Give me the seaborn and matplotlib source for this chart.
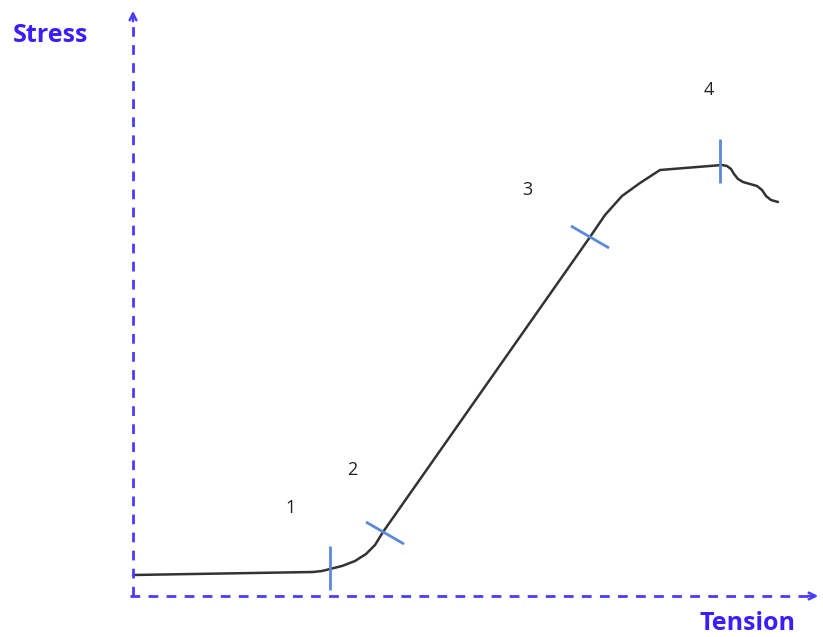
import numpy as np
import pandas as pd
import seaborn as sns
import matplotlib.pyplot as plt

# stress-strain curve (tension on x, stress on y)
tension = [0, 180, 189, 197, 209, 222, 233, 242, 250, 457, 472, 489, 507,
           527, 589, 594, 598, 601, 605, 610, 617, 624, 629, 633, 638, 645]
stress = [21, 24, 25, 27, 30, 35, 42, 51, 64, 359, 381, 400, 413,
          426, 431, 430, 427, 422, 417, 414, 412, 410, 406, 400, 396, 394]

# phase markers: position on the curve, tick angle (deg), label and label position
marker_x = [197, 252, 457, 587]
marker_y = [28, 63, 359, 435]
marker_angle = [90, -30, -30, 90]
phase_labels = ['1', '2', '3', '4']
label_x = [158, 219, 394, 576]
label_y = [88, 126, 406, 506]

sns.set_style('white')
plt.rcParams['font.family'] = ['Open Sans', 'DejaVu Sans']

fig = plt.figure(figsize=(8.23, 6.37), dpi=100)
ax = fig.add_axes([0, 0, 1, 1])
ax.set_xlim(-133, 690)
ax.set_ylim(-41, 596)
ax.axis('off')

df = pd.DataFrame({'tension': tension, 'stress': stress})
sns.lineplot(data=df, x='tension', y='stress', sort=False, color='#333333',
             lw=1.8, ax=ax, solid_joinstyle='round', solid_capstyle='round')

# tick marks across the curve
half = 22
for mx, my, a in zip(marker_x, marker_y, marker_angle):
    r = np.deg2rad(a)
    dx, dy = half * np.cos(r), half * np.sin(r)
    ax.plot([mx - dx, mx + dx], [my - dy, my + dy], color='#5a8ad8', lw=2,
            solid_capstyle='butt')

for t, lx, ly in zip(phase_labels, label_x, label_y):
    ax.text(lx, ly, t, fontsize=13, ha='center', va='center', color='#222222')

# dashed axes with open arrow heads
blue = '#4a3cff'
ax.plot([0, 0], [0, 582], color=blue, lw=2, ls=(0, (3.5, 3)))
ax.plot([-3, 683], [0, 0], color=blue, lw=2, ls=(0, (3.5, 3)))
ax.annotate('', xy=(0, 588), xytext=(0, 572),
            arrowprops=dict(arrowstyle='->', color=blue, lw=1.8,
                            mutation_scale=12))
ax.annotate('', xy=(688, 0), xytext=(672, 0),
            arrowprops=dict(arrowstyle='->', color=blue, lw=1.8,
                            mutation_scale=12))

ax.text(-82, 561, 'Stress', fontsize=18, fontweight='bold', color='#3a1eff',
        ha='center', va='center')
ax.text(615, -27, 'Tension', fontsize=18, fontweight='bold', color='#3a1eff',
        ha='center', va='center')

plt.savefig('out.png', dpi=100)
